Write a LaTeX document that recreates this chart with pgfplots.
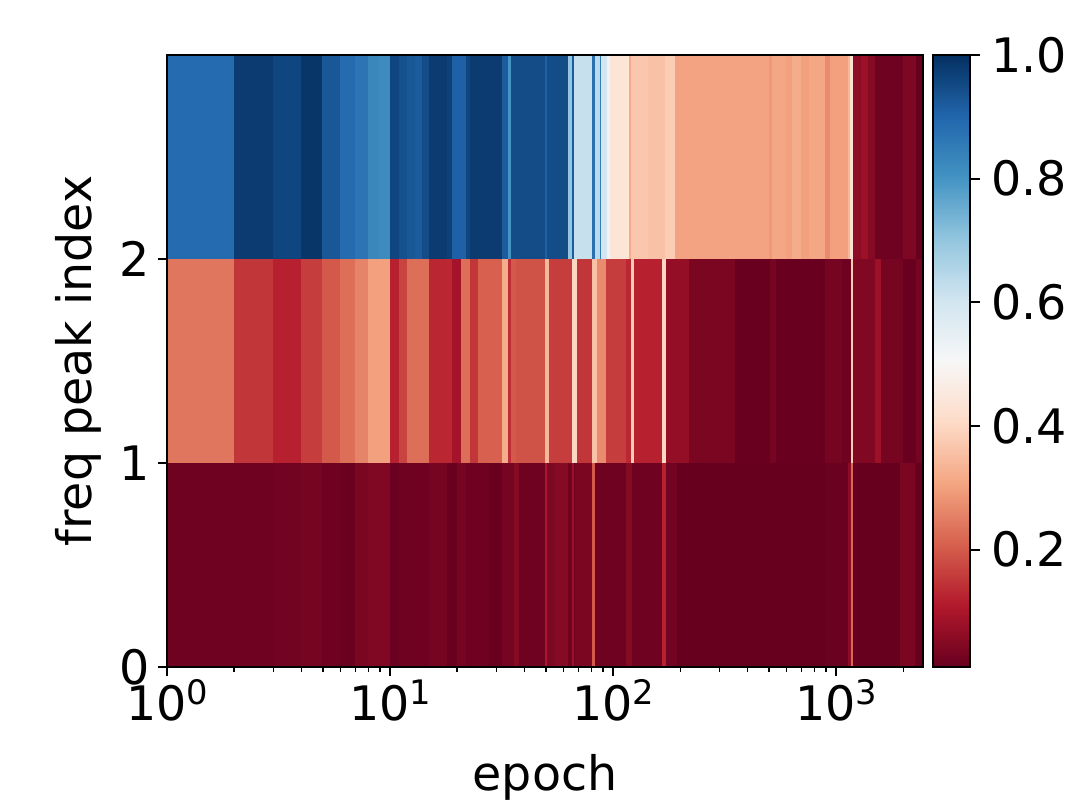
\documentclass[border=0pt]{standalone}
\usepackage{pgfplots}
\pgfplotsset{compat=1.18}
\usepackage{fontspec}
\setmainfont{DejaVu Sans}
\pgfplotsset{
  colormap={RdBu}{rgb255=(103,0,31) rgb255=(178,24,43) rgb255=(214,96,77) rgb255=(244,165,130) rgb255=(253,219,199) rgb255=(247,247,247) rgb255=(209,229,240) rgb255=(146,197,222) rgb255=(67,147,195) rgb255=(33,102,172) rgb255=(5,48,97)},
  every tick label/.append style={font=\fontsize{19}{22}\selectfont},
}
\newcommand{\tenp}[1]{10\raisebox{0.34em}{\fontsize{13.5}{14}\selectfont #1}}
\begin{document}
\begin{tikzpicture}
\begin{axis}[
  name=ax, scale only axis, width=302.4pt, height=244.8pt,
  xmode=log, xmin=1, xmax=2450, ymin=0, ymax=3,
  xtick={1,10,100,1000}, xticklabels={\tenp{0},\tenp{1},\tenp{2},\tenp{3}},
  minor xtick={2,3,4,5,6,7,8,9,20,30,40,50,60,70,80,90,200,300,400,500,600,700,800,900,2000},
  ytick={0,1,2}, yticklabels={0,1,2},
  xticklabel style={yshift=2pt},
  tick align=outside, xtick pos=left, ytick pos=left,
  major tick length=3.5pt, minor tick length=2pt,
  every tick/.style={black, line width=0.8pt},
  minor tick style={line width=0.6pt},
  axis line style={line width=0.8pt},
  axis on top,
  colormap name=RdBu, point meta min=0.01, point meta max=1,
  colorbar,
  colorbar style={width=14.8pt, at={(parent axis.north east)}, anchor=north west, xshift=-4.54pt,
    ytick={0.2,0.4,0.6,0.8,1.0}, yticklabels={0.2,0.4,0.6,0.8,1.0},
    tick align=outside, ytick pos=right, major tick length=4pt,
    yticklabel style={xshift=1pt},
    every tick/.style={black, line width=0.8pt}, axis line style={line width=0.8pt}},
  xlabel={epoch}, ylabel={freq peak index},
  label style={font=\fontsize{19}{22}\selectfont},
  xlabel style={at={(axis description cs:0.5,-0.201)}, anchor=base},
  ylabel style={at={(axis description cs:-0.1005,0.5)}, anchor=base},
]
% top row (freq peak index 2 to 3)
\addplot[surf, shader=flat corner, mesh/rows=2, point meta=explicit] table[x=x, y=y, meta=c] {
x y c
1 2 0.89
2 2 0.98
3 2 0.96
4 2 0.99
5 2 0.93
6 2 0.89
7 2 0.87
8 2 0.83
9 2 0.82
10 2 0.96
11 2 0.94
12 2 0.93
13 2 0.92
14 2 0.95
15 2 0.98
18 2 0.97
19 2 0.91
22 2 0.96
23 2 0.98
32 2 0.92
34 2 0.80
35 2 0.95
50 2 0.91
51 2 0.95
63 2 0.70
66 2 0.92
67 2 0.62
81 2 0.88
83 2 0.64
88 2 0.85
89 2 0.60
94 2 0.53
97 2 0.44
119 2 0.32
121 2 0.37
144 2 0.36
171 2 0.38
190 2 0.305
500 2 0.29
520 2 0.31
600 2 0.30
640 2 0.32
700 2 0.30
760 2 0.31
893 2 0.27
940 2 0.30
1132 2 0.34
1165 2 0.42
1195 2 0.06
1300 2 0.08
1400 2 0.05
1500 2 0.02
2000 2 0.04
2300 2 0.01
2450 2 0.01
1 3 0.89
2 3 0.98
3 3 0.96
4 3 0.99
5 3 0.93
6 3 0.89
7 3 0.87
8 3 0.83
9 3 0.82
10 3 0.96
11 3 0.94
12 3 0.93
13 3 0.92
14 3 0.95
15 3 0.98
18 3 0.97
19 3 0.91
22 3 0.96
23 3 0.98
32 3 0.92
34 3 0.80
35 3 0.95
50 3 0.91
51 3 0.95
63 3 0.70
66 3 0.92
67 3 0.62
81 3 0.88
83 3 0.64
88 3 0.85
89 3 0.60
94 3 0.53
97 3 0.44
119 3 0.32
121 3 0.37
144 3 0.36
171 3 0.38
190 3 0.305
500 3 0.29
520 3 0.31
600 3 0.30
640 3 0.32
700 3 0.30
760 3 0.31
893 3 0.27
940 3 0.30
1132 3 0.34
1165 3 0.42
1195 3 0.06
1300 3 0.08
1400 3 0.05
1500 3 0.02
2000 3 0.04
2300 3 0.01
2450 3 0.01
};
% middle row (1 to 2)
\addplot[surf, shader=flat corner, mesh/rows=2, point meta=explicit] table[x=x, y=y, meta=c] {
x y c
1 1 0.24
2 1 0.15
3 1 0.12
4 1 0.16
5 1 0.20
6 1 0.23
7 1 0.26
8 1 0.30
10 1 0.12
11 1 0.17
12 1 0.23
15 1 0.13
19 1 0.09
21 1 0.23
23 1 0.15
25 1 0.21
32 1 0.32
34 1 0.14
35 1 0.20
37 1 0.19
50 1 0.34
52 1 0.16
66 1 0.40
69 1 0.15
81 1 0.36
85 1 0.27
93 1 0.16
115 1 0.13
121 1 0.38
125 1 0.12
166 1 0.40
173 1 0.07
219 1 0.035
352 1 0.012
510 1 0.03
540 1 0.012
893 1 0.03
1064 1 0.02
1170 1 0.38
1195 1 0.045
1500 1 0.08
1600 1 0.03
2000 1 0.012
2300 1 0.03
2450 1 0.03
1 2 0.24
2 2 0.15
3 2 0.12
4 2 0.16
5 2 0.20
6 2 0.23
7 2 0.26
8 2 0.30
10 2 0.12
11 2 0.17
12 2 0.23
15 2 0.13
19 2 0.09
21 2 0.23
23 2 0.15
25 2 0.21
32 2 0.32
34 2 0.14
35 2 0.20
37 2 0.19
50 2 0.34
52 2 0.16
66 2 0.40
69 2 0.15
81 2 0.36
85 2 0.27
93 2 0.16
115 2 0.13
121 2 0.38
125 2 0.12
166 2 0.40
173 2 0.07
219 2 0.035
352 2 0.012
510 2 0.03
540 2 0.012
893 2 0.03
1064 2 0.02
1170 2 0.38
1195 2 0.045
1500 2 0.08
1600 2 0.03
2000 2 0.012
2300 2 0.03
2450 2 0.03
};
% bottom row (0 to 1)
\addplot[surf, shader=flat corner, mesh/rows=2, point meta=explicit] table[x=x, y=y, meta=c] {
x y c
1 0 0.02
3 0 0.025
4 0 0.03
5 0 0.02
6 0 0.015
7 0 0.035
8 0 0.045
10 0 0.015
11 0 0.02
15 0 0.03
18 0 0.012
20 0 0.03
22 0 0.02
28 0 0.012
32 0 0.03
36 0 0.05
38 0 0.02
50 0 0.10
51 0 0.04
55 0 0.05
63 0 0.02
66 0 0.08
67 0 0.02
68 0 0.035
81 0 0.20
83 0 0.02
115 0 0.05
122 0 0.02
166 0 0.12
173 0 0.025
195 0 0.01
900 0 0.015
1130 0 0.06
1170 0 0.22
1195 0 0.01
1936 0 0.035
2261 0 0.01
2450 0 0.01
1 1 0.02
3 1 0.025
4 1 0.03
5 1 0.02
6 1 0.015
7 1 0.035
8 1 0.045
10 1 0.015
11 1 0.02
15 1 0.03
18 1 0.012
20 1 0.03
22 1 0.02
28 1 0.012
32 1 0.03
36 1 0.05
38 1 0.02
50 1 0.10
51 1 0.04
55 1 0.05
63 1 0.02
66 1 0.08
67 1 0.02
68 1 0.035
81 1 0.20
83 1 0.02
115 1 0.05
122 1 0.02
166 1 0.12
173 1 0.025
195 1 0.01
900 1 0.015
1130 1 0.06
1170 1 0.22
1195 1 0.01
1936 1 0.035
2261 1 0.01
2450 1 0.01
};
\end{axis}
\pgfresetboundingbox
\path[use as bounding box] ([xshift=-66.8pt, yshift=-56.8pt]ax.south west) rectangle ([xshift=62.8pt, yshift=22pt]ax.north east);
\end{tikzpicture}
\end{document}
